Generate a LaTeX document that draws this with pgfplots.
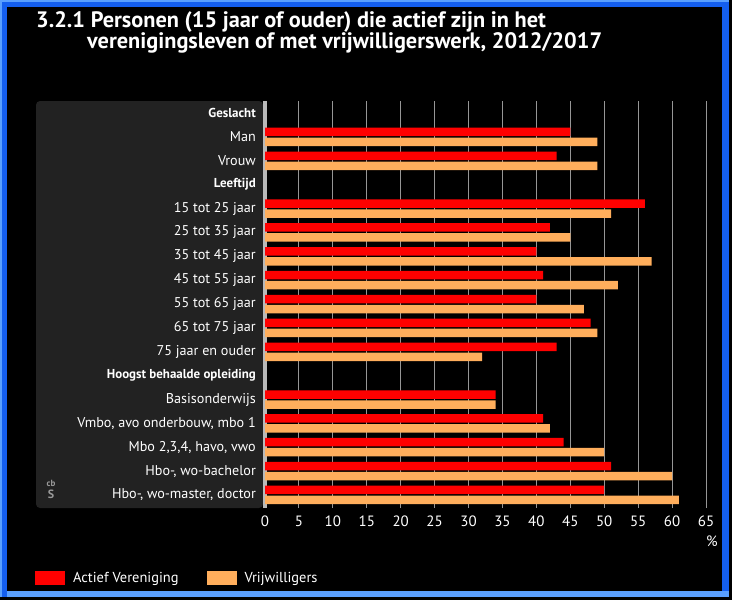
\documentclass[border=0pt]{standalone}
\usepackage{fontspec}
\setmainfont{PT Sans}
\usepackage{pgfplots}
\pgfplotsset{compat=1.18}
\definecolor{cred}{RGB}{255,0,0}
\definecolor{corange}{RGB}{255,174,92}
\definecolor{panel}{RGB}{34,34,34}
\definecolor{gridc}{RGB}{150,150,150}
\definecolor{axisc}{RGB}{185,185,185}
\definecolor{frameblue}{RGB}{20,95,240}
\definecolor{framelight}{RGB}{90,160,255}
\begin{document}
\begin{tikzpicture}
\fill[black] (0,0) rectangle (732bp,-600bp);
\fill[frameblue] (0,0) rectangle (729bp,-597bp);
\fill[framelight] (0,0) rectangle (729bp,-2bp);
\fill[framelight] (0,0) rectangle (2bp,-597bp);
\fill[framelight] (7bp,-591bp) rectangle (729bp,-597bp);
\fill[black] (7bp,-7bp) rectangle (722bp,-591bp);
\fill[panel, rounded corners=4bp] (36bp,-101bp) rectangle (263bp,-508bp);
\node[anchor=base west, text=white, font=\bfseries\fontsize{22.4}{22.4}\selectfont, inner sep=0pt] at (36bp,-27bp) {3.2.1 Personen (15 jaar of ouder) die actief zijn in het};
\node[anchor=base west, text=white, font=\bfseries\fontsize{22.4}{22.4}\selectfont, inner sep=0pt] at (87bp,-48.5bp) {verenigingsleven of met vrijwilligerswerk, 2012/2017};
\node[text=gray!80, font=\bfseries\fontsize{9}{9}\selectfont, anchor=south, inner sep=0pt] at (51bp,-487bp) {cb};
\node[text=gray!80, font=\bfseries\fontsize{12}{12}\selectfont, anchor=north, inner sep=0pt] at (51bp,-490bp) {S};
\begin{axis}[
  at={(265bp,-508bp)}, anchor=south west, scale only axis,
  width=441bp, height=407bp,
  xmin=0, xmax=65, ymin=-16.545, ymax=0.503,
  xbar, bar width=8.5bp,
  axis x line*=bottom, axis y line*=left,
  x axis line style={draw=none},
  y axis line style={draw=axisc, line width=3bp},
  xtick={0,5,...,65}, xmajorgrids,
  grid style={gridc, line width=1bp},
  major tick length=0pt,
  ytick={0,-1,-2,-3,-4,-5,-6,-7,-8,-9,-10,-11,-12,-13,-14,-15,-16},
  yticklabels={{\bfseries\fontsize{13}{13}\selectfont Geslacht},Man,Vrouw,{\bfseries\fontsize{13}{13}\selectfont Leeftijd},15 tot 25 jaar,25 tot 35 jaar,35 tot 45 jaar,45 tot 55 jaar,55 tot 65 jaar,65 tot 75 jaar,75 jaar en ouder,{\bfseries\fontsize{13}{13}\selectfont Hoogst behaalde opleiding},Basisonderwijs,{Vmbo, avo onderbouw, mbo 1},{Mbo 2,3,4, havo, vwo},{Hbo-, wo-bachelor},{Hbo-, wo-master, doctor}},
  yticklabel style={text=white, inner sep=0pt, xshift=-9bp, font=\fontsize{14.2}{14.2}\selectfont},
  xticklabel style={text=white, inner sep=0pt, yshift=-8bp, font=\fontsize{15}{15}\selectfont},
  /pgf/number format/assume math mode=true,
  legend style={at={(-0.5283,-0.172)}, anchor=west, draw=none, fill=none, text=white, font=\fontsize{14.5}{14.5}\selectfont, legend columns=2, /tikz/every odd column/.append style={column sep=6bp}, /tikz/every even column/.append style={column sep=26bp}},
  legend cell align=left,
  clip=false,
]
\addplot[fill=cred, draw=none, bar shift=5bp, legend image code/.code={\fill[cred] (0bp,-7bp) rectangle (30bp,7bp);}] coordinates {
(45,-1) (43,-2) (56,-4) (42,-5) (40,-6) (41,-7) (40,-8) (48,-9) (43,-10)
(34,-12) (41,-13) (44,-14) (51,-15) (50,-16)};
\addplot[fill=corange, draw=none, bar shift=-5bp, legend image code/.code={\fill[corange] (0bp,-7bp) rectangle (30bp,7bp);}] coordinates {
(49,-1) (49,-2) (51,-4) (45,-5) (57,-6) (52,-7) (47,-8) (49,-9) (32,-10)
(34,-12) (42,-13) (50,-14) (60,-15) (61,-16)};
\legend{Actief Vereniging, Vrijwilligers}
\node[text=white, font=\fontsize{15}{15}\selectfont] at (rel axis cs:1.0136,-0.081) {\%};
\end{axis}
\pgfresetboundingbox
\useasboundingbox (0,0) rectangle (732bp,-600bp);
\end{tikzpicture}
\end{document}
